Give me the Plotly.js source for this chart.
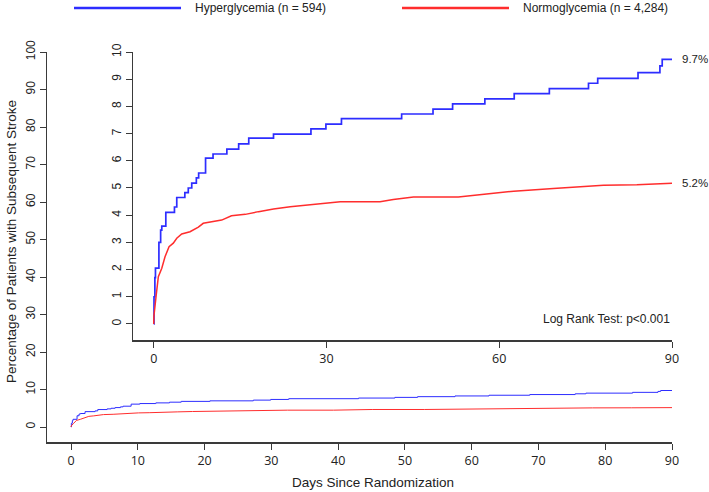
<!DOCTYPE html>
<html>
<head>
<meta charset="utf-8">
<script src="https://cdn.plot.ly/plotly-3.0.1.min.js"></script>
<style>html,body{margin:0;padding:0;background:#fff;}#chart{width:709px;height:492px;}</style>
</head>
<body>
<div id="chart"></div>
<script>
// Cumulative incidence (%)
const hyperDays = [0, 0.05, 0.2, 0.3, 0.9, 1.2, 1.4, 2.1, 3.6, 4.0, 5.4, 6.0, 6.6, 7.4, 7.8, 9.0, 10.3, 12.7, 14.75, 16.5, 20.8, 27.3, 29.9, 32.6, 43.05, 48.5, 51.9, 57.5, 62.6, 68.7, 75.5, 77.1, 84.1, 87.9, 88.3, 90];
const hyperVals = [0, 1.0, 1.7, 2.05, 3.0, 3.45, 3.6, 4.1, 4.3, 4.65, 4.83, 5.0, 5.18, 5.37, 5.55, 6.1, 6.25, 6.43, 6.62, 6.83, 6.98, 7.17, 7.35, 7.55, 7.72, 7.9, 8.09, 8.28, 8.47, 8.65, 8.85, 9.03, 9.24, 9.49, 9.73, 9.73];
const normoDays = [0, 0.02, 0.4, 0.8, 1.4, 1.96, 2.66, 3.4, 4.0, 4.86, 6.3, 7.75, 8.6, 10.1, 11.8, 13.5, 15.9, 18.2, 20.8, 23.7, 27.1, 30.0, 32.4, 39.3, 41.6, 45.1, 52.9, 57.8, 62.5, 69.4, 78.1, 83.9, 90];
const normoVals = [0, 0.27, 1.0, 1.74, 2.05, 2.47, 2.84, 2.97, 3.15, 3.31, 3.39, 3.56, 3.70, 3.76, 3.82, 3.98, 4.03, 4.13, 4.23, 4.31, 4.38, 4.46, 4.49, 4.49, 4.58, 4.67, 4.67, 4.78, 4.88, 4.98, 5.10, 5.12, 5.17];
const groupNames = ["Hyperglycemia (n = 594)", "Normoglycemia (n = 4,284)"];
const endLabels = ["9.7%", "5.2%"];
const endValues = [9.73, 5.17];
const mainXTicks = [0, 10, 20, 30, 40, 50, 60, 70, 80, 90];
const mainYTicks = [0, 10, 20, 30, 40, 50, 60, 70, 80, 90, 100];
const insetXTicks = [0, 30, 60, 90];
const insetYTicks = [0, 1, 2, 3, 4, 5, 6, 7, 8, 9, 10];
const pLabel = "Log Rank Test: p<0.001";

const BLUE = "rgb(45,45,255)";
const RED = "rgb(255,45,45)";
const AX = "#3a3a3a";
const W = 709, H = 492;
const px = v => v / W;
const py = v => (H - v) / H;

const traces = [
  {x: hyperDays, y: hyperVals, xaxis: "x", yaxis: "y", mode: "lines", line: {color: BLUE, width: 1, shape: "hv"}, hoverinfo: "skip"},
  {x: normoDays, y: normoVals, xaxis: "x", yaxis: "y", mode: "lines", line: {color: RED, width: 1, shape: "linear"}, hoverinfo: "skip"},
  {x: hyperDays, y: hyperVals, xaxis: "x2", yaxis: "y2", mode: "lines", line: {color: BLUE, width: 1.7, shape: "hv"}, hoverinfo: "skip"},
  {x: normoDays, y: normoVals, xaxis: "x2", yaxis: "y2", mode: "lines", line: {color: RED, width: 1.5, shape: "linear"}, hoverinfo: "skip"}
];

const xTickFont = {family: "Open Sans, sans-serif", size: 12.5, color: "#222"};
const yTickFont = {family: "Liberation Sans, Arial, sans-serif", size: 12, color: "#222"};
const axisCommon = {showgrid: false, zeroline: false, showline: true, linecolor: AX, linewidth: 1.5, ticks: "outside", ticklen: 6, tickwidth: 1, tickcolor: AX, tickmode: "array", fixedrange: true};

const layout = {
  width: W, height: H,
  margin: {l: 0, r: 0, t: 0, b: 0},
  paper_bgcolor: "#fff", plot_bgcolor: "rgba(0,0,0,0)",
  showlegend: false,
  xaxis: Object.assign({}, axisCommon, {domain: [px(47), px(672)], range: [-3.6, 90], anchor: "y", tickvals: mainXTicks, ticktext: mainXTicks.map(String), tickfont: xTickFont}),
  yaxis: Object.assign({}, axisCommon, {domain: [py(442), py(52)], range: [-4, 100], anchor: "x", tickvals: mainYTicks, ticktext: mainYTicks.map(String), tickfont: yTickFont, tickangle: -90}),
  xaxis2: Object.assign({}, axisCommon, {domain: [px(133), px(672)], range: [-3.6, 90], anchor: "y2", tickvals: insetXTicks, ticktext: insetXTicks.map(String), tickfont: xTickFont}),
  yaxis2: Object.assign({}, axisCommon, {domain: [py(340), py(52)], range: [-0.59, 10], anchor: "x2", tickvals: insetYTicks, ticktext: insetYTicks.map(String), tickfont: yTickFont, tickangle: -90}),
  shapes: [
    {type: "line", xref: "paper", yref: "paper", x0: px(74), x1: px(181), y0: py(8), y1: py(8), line: {color: BLUE, width: 2.5}},
    {type: "line", xref: "paper", yref: "paper", x0: px(402), x1: px(509), y0: py(8), y1: py(8), line: {color: RED, width: 2.5}}
  ],
  annotations: [
    {xref: "paper", yref: "paper", x: px(193), y: py(8), xanchor: "left", yanchor: "middle", text: groupNames[0], showarrow: false, font: {family: "Liberation Sans, Arial, sans-serif", size: 12, color: "#222"}},
    {xref: "paper", yref: "paper", x: px(521), y: py(8), xanchor: "left", yanchor: "middle", text: groupNames[1], showarrow: false, font: {family: "Liberation Sans, Arial, sans-serif", size: 12, color: "#222"}},
    {xref: "paper", yref: "y2", x: px(680), y: endValues[0], xanchor: "left", yanchor: "middle", text: endLabels[0], showarrow: false, font: {family: "Liberation Sans, Arial, sans-serif", size: 11.5, color: "#222"}},
    {xref: "paper", yref: "y2", x: px(680), y: endValues[1], xanchor: "left", yanchor: "middle", text: endLabels[1], showarrow: false, font: {family: "Liberation Sans, Arial, sans-serif", size: 11.5, color: "#222"}},
    {xref: "paper", yref: "paper", x: px(672), y: py(319), xanchor: "right", yanchor: "middle", text: pLabel, showarrow: false, font: {family: "Liberation Sans, Arial, sans-serif", size: 12, color: "#222"}},
    {xref: "paper", yref: "paper", x: px(373), y: py(482), xanchor: "center", yanchor: "middle", text: "Days Since Randomization", showarrow: false, font: {family: "Liberation Sans, Arial, sans-serif", size: 13.5, color: "#222"}},
    {xref: "paper", yref: "paper", x: px(12), y: py(242), xanchor: "center", yanchor: "middle", textangle: -90, text: "Percentage of Patients with Subsequent Stroke", showarrow: false, font: {family: "Liberation Sans, Arial, sans-serif", size: 13.5, color: "#222"}}
  ]
};

Plotly.newPlot("chart", traces, layout, {displayModeBar: false, staticPlot: true});
</script>
</body>
</html>
